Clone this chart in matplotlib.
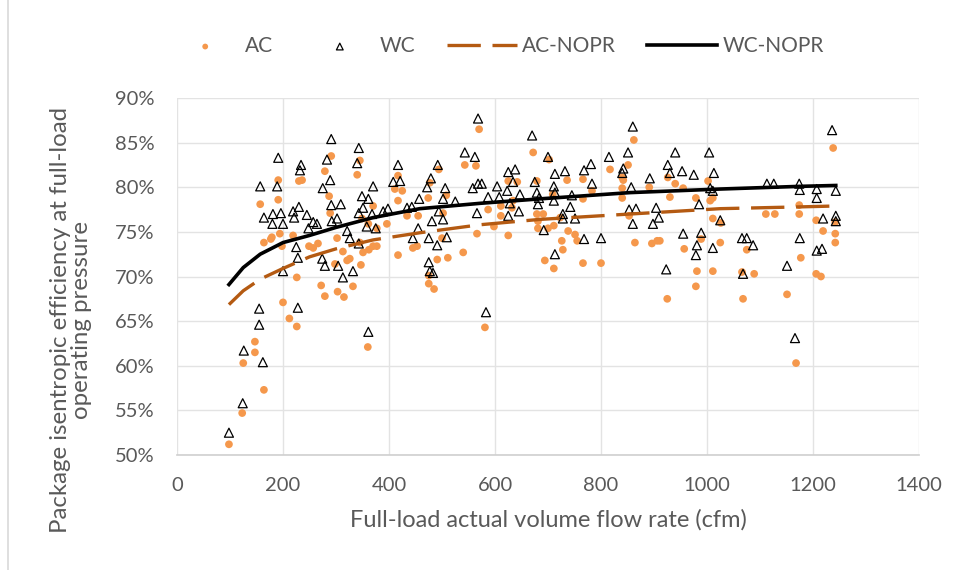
import matplotlib
matplotlib.use("Agg")
import matplotlib.pyplot as plt
from matplotlib.lines import Line2D
from matplotlib.ticker import FuncFormatter

plt.rcParams['font.family'] = ['Lato', 'DejaVu Sans']

# ---- data (cfm, efficiency %) ----
wc_x = [98, 124, 126, 155, 155, 162, 200, 228, 313,
        157, 191, 189, 164, 181, 196, 180, 200, 219, 230, 221, 234, 232, 245, 257, 248, 225, 228,
        275, 289, 283, 291, 309, 291, 302, 292, 321, 274, 279, 304, 264,
        343, 340, 349, 361, 370, 351, 343, 368, 389, 398, 358, 375, 326, 343, 332, 417, 408, 421,
        434, 443, 457, 455, 445, 479, 472, 492, 506, 502, 525, 494, 502, 481, 475, 491, 509, 475,
        477, 483, 543, 562, 568, 558, 568, 575, 566, 587, 604, 608, 623, 625, 638, 634, 628, 647,
        625, 645, 670, 675, 679, 681, 361, 583,
        683, 700, 713, 711, 713, 711, 732, 742, 745, 728, 728, 751, 692, 713, 768, 781, 783, 768,
        800, 815, 840, 842, 851, 860, 857, 853, 866, 860, 892, 904, 909, 898, 926, 930, 940, 953,
        975, 985, 1004, 1013, 1006, 1011, 1025, 955, 989, 981, 979, 1011, 923,
        1113, 1126, 1174, 1175, 1207, 1207, 1243, 1236, 1219, 1243, 1243, 1066, 1075, 1087, 1175,
        1207, 1217, 1151, 1068, 1166]
wc_y = [52.5, 55.8, 61.7, 66.4, 64.6, 60.4, 70.6, 66.5, 69.9,
        80.1, 83.3, 80.1, 76.6, 77.0, 77.1, 75.9, 75.9, 77.3, 77.8, 76.6, 82.5, 81.9, 76.9, 76.1, 75.4, 73.3, 72.1,
        79.9, 80.8, 83.1, 85.4, 78.1, 78.0, 76.5, 76.2, 75.1, 72.0, 71.2, 71.2, 75.9,
        84.4, 82.7, 79.0, 78.7, 80.1, 77.7, 77.1, 77.0, 77.3, 77.6, 75.6, 75.4, 74.3, 73.7, 70.6, 82.5, 80.6, 80.7,
        77.7, 77.8, 78.7, 75.4, 74.3, 81.0, 80.0, 82.5, 79.9, 78.7, 78.4, 77.3, 76.4, 76.2, 74.3, 73.5, 74.4, 71.6,
        70.6, 70.4, 83.9, 83.4, 87.7, 79.9, 80.4, 80.4, 77.1, 78.9, 80.1, 78.9, 79.6, 81.7, 82.0, 80.6, 78.2, 79.2,
        76.8, 77.3, 85.8, 80.6, 79.4, 78.1, 63.8, 66.0,
        78.8, 83.4, 81.5, 80.1, 79.4, 78.5, 81.8, 77.8, 79.1, 77.0, 76.5, 76.5, 75.2, 72.5, 81.9, 82.6, 80.4, 74.2,
        74.3, 83.4, 81.6, 82.1, 83.9, 86.8, 80.0, 77.5, 77.6, 75.9, 81.0, 77.7, 76.6, 75.9, 82.5, 81.6, 83.9, 81.8,
        81.4, 78.1, 83.9, 81.6, 79.9, 79.6, 76.3, 74.8, 74.9, 73.5, 72.4, 73.2, 70.8,
        80.4, 80.4, 80.4, 79.7, 79.8, 78.8, 79.6, 86.4, 76.5, 76.8, 76.2, 74.3, 74.3, 73.5, 74.3,
        72.9, 73.1, 71.2, 70.3, 63.1]

ac_x = [98, 123, 125, 147, 147, 164, 200, 212, 226, 226, 272, 279, 303, 315,
        191, 191, 157, 164, 177, 179, 194, 198, 219, 230, 236, 249, 257, 266, 279, 291, 287, 289,
        302, 298, 313, 321,
        345, 340, 370, 349, 361, 377, 396, 370, 377, 351, 362, 345, 326, 347, 411, 417, 425, 417,
        417, 434, 445, 453, 474, 477, 455, 494, 502, 500, 491, 511, 508, 540, 543, 564, 570, 587,
        566, 598, 611, 625, 625, 611, 634, 632, 642, 672, 679, 679, 681,
        332, 360, 475, 475, 485, 581,
        691, 681, 700, 711, 702, 709, 736, 723, 738, 751, 755, 726, 728, 694, 711, 766, 766, 783,
        800, 766, 817, 840, 840, 840, 842, 851, 853, 862, 864, 891, 896, 906, 911, 926, 930, 940,
        955, 957, 979, 981, 989, 1002, 1006, 1011, 1011, 1011, 1025, 1026,
        979, 925,
        1238, 1111, 1128, 1174, 1174, 1206, 1219, 1242, 1242, 1242, 1075, 1177, 1066, 1089, 1206, 1215,
        1068, 1151, 1168]
ac_y = [51.2, 54.7, 60.3, 62.7, 61.5, 57.3, 67.1, 65.3, 64.4, 69.9, 69.0, 67.8, 68.3, 67.7,
        80.8, 78.6, 78.1, 73.8, 74.2, 74.4, 74.8, 73.4, 74.6, 80.7, 80.8, 73.4, 73.2, 73.7, 81.8, 83.5, 79.0, 77.1,
        74.3, 71.4, 72.8, 71.8,
        83.0, 81.4, 77.9, 76.5, 75.9, 75.4, 75.9, 73.4, 73.4, 72.7, 73.0, 73.8, 72.0, 71.3, 79.8, 78.5, 79.6, 72.4,
        81.3, 76.8, 73.2, 73.4, 78.8, 80.5, 76.8, 82.0, 77.1, 74.3, 71.9, 72.1, 79.1, 72.7, 82.5, 82.4, 86.5, 77.5,
        74.8, 75.6, 76.8, 80.7, 74.6, 77.9, 78.5, 77.7, 80.6, 83.9, 80.7, 77.0, 75.4,
        68.9, 62.1, 70.1, 69.2, 68.6, 64.3,
        77.0, 76.2, 75.4, 75.7, 83.1, 79.2, 80.8, 76.6, 75.1, 74.7, 74.0, 74.0, 73.0, 71.8, 70.9, 80.9, 71.5, 79.6,
        71.5, 78.7, 82.0, 81.1, 79.9, 78.8, 80.8, 82.5, 76.8, 85.3, 73.8, 80.0, 73.7, 74.0, 74.0, 81.1, 78.9, 80.4,
        79.9, 73.1, 78.8, 70.6, 74.2, 80.7, 78.5, 78.8, 70.6, 76.5, 73.8, 76.0,
        68.9, 67.5,
        84.4, 77.0, 77.0, 78.0, 77.0, 76.3, 75.1, 76.1, 74.8, 73.8, 73.0, 72.1, 70.5, 70.3, 70.3, 70.0,
        67.5, 68.0, 60.3]

nopr_x = [98, 125, 157, 200, 250, 300, 370, 458, 572, 685, 855, 1025, 1175, 1243]
wc_nopr = [69.1, 71.0, 72.5, 73.8, 74.6, 75.5, 76.6, 77.6, 78.2, 78.7, 79.4, 79.8, 80.1, 80.2]
ac_nopr = [66.85, 68.4, 69.7, 70.9, 72.2, 73.1, 74.1, 74.9, 75.8, 76.4, 77.0, 77.6, 77.8, 77.9]

x_ticks = [0, 200, 400, 600, 800, 1000, 1200, 1400]
y_ticks = [50, 55, 60, 65, 70, 75, 80, 85, 90]

# ---- figure ----
W, H = 963, 570
fig = plt.figure(figsize=(W / 100, H / 100), dpi=100)
ax = fig.add_axes([177 / W, 1 - 455 / H, (919 - 177) / W, (455 - 98) / H])

dot_c = '#F5984C'
brown = '#B45A12'
txt_c = '#595959'

ax.scatter(ac_x, ac_y, s=31, color=dot_c, edgecolors='none', zorder=3, label='AC')
ax.scatter(wc_x, wc_y, s=42, marker='^', facecolors='none', edgecolors='black',
           linewidths=0.9, zorder=4, label='WC')
ax.plot(nopr_x, ac_nopr, color=brown, lw=2.4, linestyle=(0, (10, 3.5)), zorder=5,
        label='AC-NOPR', solid_capstyle='butt')
ax.plot(nopr_x, wc_nopr, color='black', lw=2.6, zorder=6, label='WC-NOPR')

ax.set_xlim(0, 1400)
ax.set_ylim(50, 90)
ax.set_xticks(x_ticks)
ax.set_yticks(y_ticks)
ax.yaxis.set_major_formatter(FuncFormatter(lambda v, p: f"{v:.0f}%"))
ax.grid(True, color='#E3E3E3', lw=1, zorder=0)
ax.set_axisbelow(True)
for s in ['top', 'right', 'left']:
    ax.spines[s].set_visible(False)
ax.spines['bottom'].set_color('#CFCFCF')
ax.spines['bottom'].set_linewidth(1.2)
ax.tick_params(axis='both', length=0, labelsize=14.5, colors=txt_c)
ax.tick_params(axis='x', pad=16)
ax.tick_params(axis='y', pad=16)

ax.set_xlabel('Full-load actual volume flow rate (cfm)', fontsize=17, color=txt_c, labelpad=11)
fig.text(71 / W, 1 - 320 / H, 'Package isentropic efficiency at full-load\noperating pressure',
         rotation=90, ha='center', va='center', multialignment='center', fontsize=17.3,
         color=txt_c, linespacing=1.05)

h, l = ax.get_legend_handles_labels()
fig.legend(handles=h, labels=l, loc='center', bbox_to_anchor=(497 / W, 1 - 46 / H), ncol=4,
           frameon=False, fontsize=15, handlelength=3.36, handletextpad=0.25, columnspacing=1.5,
           markerscale=0.75, labelcolor=txt_c)

# chart area border (left edge)
fig.add_artist(Line2D([8 / W, 8 / W], [0, 1], color='#D9D9D9', lw=1.2, transform=fig.transFigure))

fig.savefig('out.png', dpi=100)
